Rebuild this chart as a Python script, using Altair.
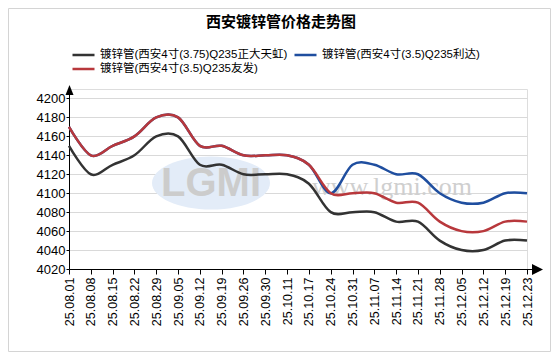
import altair as alt
import pandas as pd

# ---- data ----
dates = ["25.08.01", "25.08.08", "25.08.15", "25.08.22", "25.08.29", "25.09.05",
         "25.09.12", "25.09.19", "25.09.26", "25.09.30", "25.10.11", "25.10.17",
         "25.10.24", "25.10.31", "25.11.07", "25.11.14", "25.11.21", "25.11.28",
         "25.12.05", "25.12.12", "25.12.19", "25.12.23"]

name_zdth = "镀锌管(西安4寸(3.75)Q235正大天虹)"
name_lida = "镀锌管(西安4寸(3.5)Q235利达)"
name_youfa = "镀锌管(西安4寸(3.5)Q235友发)"

zdth = [4150, 4120, 4130, 4140, 4160, 4160, 4130, 4130, 4120, 4120, 4120,
        4110, 4080, 4080, 4080, 4070, 4070, 4050, 4040, 4040, 4050, 4050]
lida = [4170, 4140, 4150, 4160, 4180, 4180, 4150, 4150, 4140, 4140, 4140,
        4130, 4100, 4130, 4130, 4120, 4120, 4100, 4090, 4090, 4100, 4100]
youfa = [4170, 4140, 4150, 4160, 4180, 4180, 4150, 4150, 4140, 4140, 4140,
         4130, 4100, 4100, 4100, 4090, 4090, 4070, 4060, 4060, 4070, 4070]

series_names = [name_zdth, name_lida, name_youfa]
series_colors = ["#333333", "#1f4e9f", "#b8383c"]
y_ticks = list(range(4020, 4201, 20))

rows = []
for nm, vals in zip(series_names, [zdth, lida, youfa]):
    for d, v in zip(dates, vals):
        rows.append({"date": d, "price": v, "series": nm})
df = pd.DataFrame(rows)
one = pd.DataFrame({"k": [0]})

FONT = "Liberation Sans, Noto Sans CJK SC"
W, H = 458, 180

base = alt.Chart(df).encode(
    x=alt.X("date:N", sort=dates, title=None,
            scale=alt.Scale(type="point", padding=0),
            axis=alt.Axis(labelAngle=-90, labelFontSize=12.5, labelColor="#000000",
                          labelFont=FONT, tickSize=5, tickColor="#000000",
                          domainColor="#000000", labelPadding=3, grid=False)),
    y=alt.Y("price:Q", title=None,
            scale=alt.Scale(domain=[4020, 4210], nice=False, zero=False),
            axis=alt.Axis(values=y_ticks, format="d", labelFontSize=13,
                          labelColor="#000000",
                          labelFont=FONT, tickSize=3, tickColor="#000000",
                          domainColor="#000000", labelPadding=1, grid=True,
                          gridColor="#d9d9d9", gridWidth=1)),
    color=alt.Color("series:N",
                    scale=alt.Scale(domain=series_names, range=series_colors),
                    legend=alt.Legend(title=None, orient="none", legendX=2, legendY=-41,
                                      direction="horizontal",
                                      columns=2, symbolType="stroke", symbolSize=484,
                                      symbolStrokeWidth=2.5, labelFontSize=11.5,
                                      labelFont=FONT, labelColor="#000000",
                                      labelOffset=4, columnPadding=5, rowPadding=0,
                                      clipHeight=14, padding=0, labelLimit=400)),
)

lines = [
    base.transform_filter(alt.datum.series == nm).mark_line(
        interpolate="cardinal", strokeWidth=2.5)
    for nm in series_names
]

frame = alt.Chart(one).mark_rect(fillOpacity=0, stroke="#d4d4d4", strokeWidth=1).encode(
    x=alt.value(-60.5), x2=alt.value(481.5), y=alt.value(-80.5), y2=alt.value(262.5))

ellipse = alt.Chart(one).mark_point(
    shape="M -1 0 A 1 0.45 0 1 1 1 0 A 1 0.45 0 1 1 -1 0 Z",
    filled=True, color="#e3ecf8", opacity=1, size=13924).encode(
    x=alt.value(142), y=alt.value(94))

logo = alt.Chart(one).mark_text(
    text="LGMI", font="Liberation Sans", fontSize=40, fontWeight="bold",
    color="#cccccc", align="center", baseline="middle").encode(
    x=alt.value(142), y=alt.value(95))

site = alt.Chart(one).mark_text(
    text="www.lgmi.com", font="Liberation Serif", fontSize=26,
    color="#cfcfcf", align="center", baseline="middle").encode(
    x=alt.value(323), y=alt.value(98))

x_ext = alt.Chart(one).mark_rule(color="#000000", strokeWidth=1).encode(
    x=alt.value(W - 1), x2=alt.value(W + 8), y=alt.value(H + 0.5))

x_arrow = alt.Chart(one).mark_point(
    shape="M -1 -1 L 1 0 L -1 1 Z", filled=True, color="#000000",
    opacity=1, size=121).encode(x=alt.value(468.5), y=alt.value(H + 0.5))

y_arrow = alt.Chart(one).mark_point(
    shape="M -0.8 1 L 0 -1 L 0.8 1 Z", filled=True, color="#000000",
    opacity=1, size=100).encode(x=alt.value(0.5), y=alt.value(1))

chart = alt.layer(frame, ellipse, logo, site, *lines, x_ext, x_arrow, y_arrow).properties(
    width=W, height=H,
    autosize=alt.AutoSizeParams(type="none"),
    padding={"left": 61, "top": 81, "right": 24, "bottom": 83},
    title=alt.TitleParams(text="西安镀锌管价格走势图", fontSize=15, fontWeight="bold",
                          font="Noto Sans CJK SC", color="#000000", anchor="middle",
                          frame="group", dx=-17, dy=38, offset=16),
).configure_view(stroke=None).configure(background="white")

chart.save("out.html", embed_options={"renderer": "svg", "actions": False})
